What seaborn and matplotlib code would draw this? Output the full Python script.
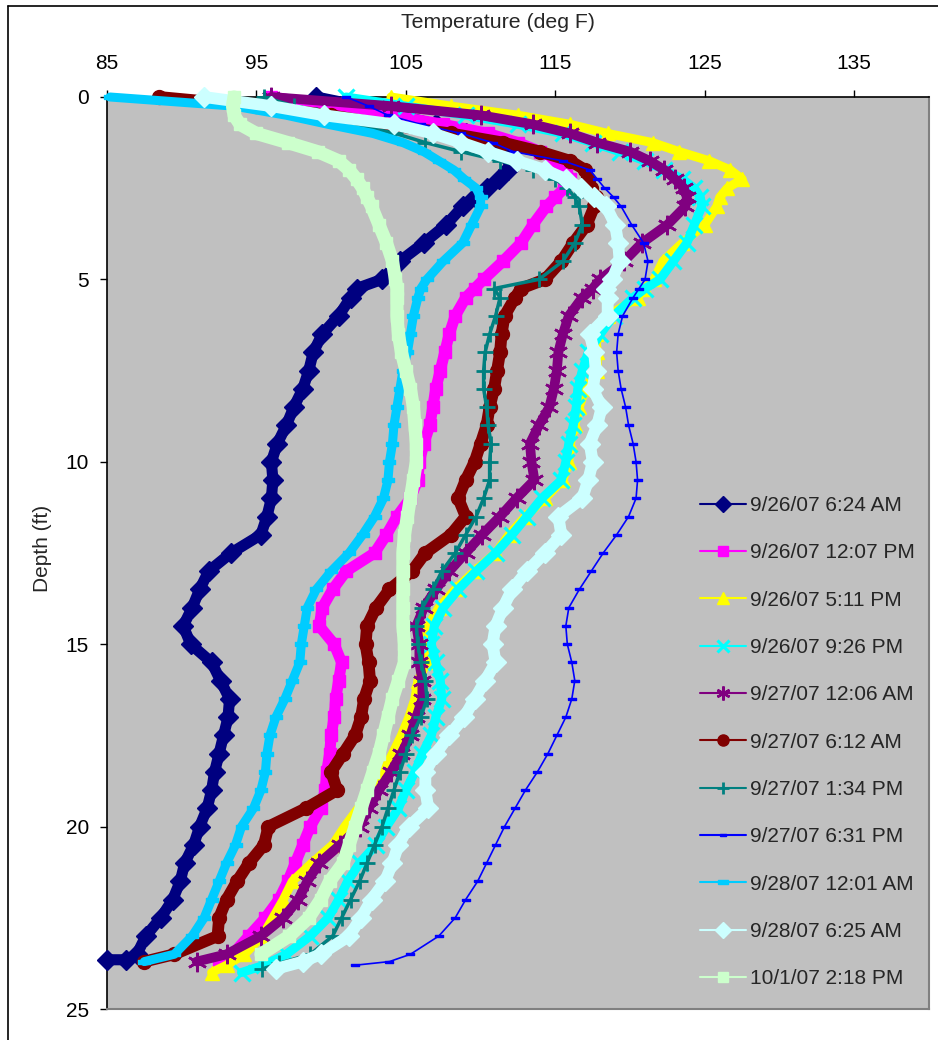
import matplotlib
matplotlib.use("Agg")
import matplotlib.pyplot as plt
from matplotlib.lines import Line2D
import seaborn as sns

# Depth of each reading (ft); shared by all probe profiles
DEPTH = [0, 0.25, 0.5, 0.75, 1.0, 1.25, 1.5, 1.75, 2.0, 2.25, 2.5, 2.75,
         3.0, 3.5, 4.0, 4.5, 5.0, 5.25, 5.5,
         6.0, 6.5, 7.0, 7.5, 8.0, 8.5, 9.0, 9.5, 10.0, 10.5,
         11.0, 11.5, 12.0, 12.5, 13.0, 13.5, 14.0, 14.5, 15.0, 15.5,
         16.0, 16.5, 17.0, 17.5, 18.0, 18.5, 19.0, 19.5, 20.0, 20.5,
         21.0, 21.5, 22.0, 22.5, 23.0, 23.5]

LABELS = ["9/26/07 6:24 AM", "9/26/07 12:07 PM", "9/26/07 5:11 PM", "9/26/07 9:26 PM",
          "9/27/07 12:06 AM", "9/27/07 6:12 AM", "9/27/07 1:34 PM", "9/27/07 6:31 PM",
          "9/28/07 12:01 AM", "9/28/07 6:25 AM", "10/1/07 2:18 PM"]

# Temperature (deg F) at each DEPTH, one list per profile
T_0926_0624 = [99.0, 102.0, 104.5, 107.0, 109.0, 110.3, 111.3, 112.0, 111.8, 111.2, 110.4, 109.6,
               108.8, 107.7, 106.2, 104.6, 103.4, 101.7, 101.3,
               100.5, 99.4, 98.8, 98.5, 98.1, 97.5, 97.0, 96.4, 96.0, 96.1,
               96.0, 95.7, 95.3, 93.3, 91.8, 91.2, 90.7, 90.1, 90.6, 92.0,
               92.6, 93.2, 93.1, 92.8, 92.5, 92.2, 92.0, 91.7, 91.2, 90.8,
               90.2, 89.9, 89.4, 88.6, 87.6, 87.0]
T_0926_1207 = [96.0, 100.0, 104.0, 107.5, 110.5, 112.5, 114.0, 115.0, 115.7, 116.0, 115.6, 115.0,
               114.4, 113.5, 112.7, 111.5, 110.2, 109.6, 109.0,
               108.3, 107.9, 107.6, 107.3, 107.0, 106.8, 106.6, 106.2, 105.9, 105.8,
               105.3, 104.4, 103.7, 102.9, 101.0, 100.1, 99.4, 99.2, 100.2, 100.7,
               100.5, 100.3, 100.2, 100.0, 99.9, 99.7, 99.6, 99.3, 98.6, 98.1,
               97.6, 97.1, 96.5, 95.6, 94.5, 93.4]
T_0926_1711 = [104.0, 108.0, 112.5, 116.0, 118.5, 121.5, 123.3, 125.3, 126.7, 127.5, 126.5, 126.0,
               125.8, 125.0, 123.5, 122.2, 121.6, 121.0, 120.5,
               118.5, 117.7, 117.8, 117.8, 117.0, 116.6, 116.3, 116.0, 115.9, 115.5,
               114.3, 113.0, 111.9, 111.0, 109.6, 108.3, 107.2, 106.5, 106.2, 106.4,
               105.8, 105.6, 105.2, 104.7, 104.1, 103.5, 102.8, 101.8, 100.9, 100.1,
               98.7, 97.4, 96.8, 96.1, 95.4, 94.2]
T_0926_2126 = [101.0, 105.0, 109.0, 112.5, 115.5, 117.5, 119.3, 121.0, 122.3, 123.5, 124.3, 124.7,
               124.8, 124.3, 123.8, 122.9, 122.0, 121.0, 120.2,
               118.9, 118.0, 117.2, 116.8, 116.5, 116.4, 116.2, 115.9, 115.7, 115.4,
               114.1, 113.1, 112.1, 111.0, 109.7, 108.5, 107.5, 106.9, 106.7, 107.0,
               107.3, 107.4, 107.0, 106.7, 106.1, 105.6, 105.0, 104.5, 103.7, 103.0,
               101.9, 101.1, 100.5, 99.8, 98.6, 97.0]
T_0927_0006 = [96.0, 104.0, 110.0, 113.5, 116.0, 117.8, 120.0, 121.3, 122.3, 123.0, 123.6, 123.8,
               123.7, 122.5, 120.8, 119.6, 118.0, 117.5, 116.8,
               115.9, 115.5, 115.2, 115.1, 114.9, 114.6, 113.9, 113.3, 113.4, 113.6,
               112.4, 111.3, 110.1, 109.0, 107.9, 107.0, 106.2, 105.7, 105.9, 105.9,
               106.1, 106.1, 105.7, 105.3, 104.7, 104.0, 103.2, 102.5, 101.9, 100.6,
               99.2, 98.4, 97.8, 96.8, 95.3, 93.0]
T_0927_0612 = [88.5, 95.0, 100.0, 103.5, 108.0, 111.5, 114.0, 116.0, 117.0, 117.2, 117.4, 117.7,
               117.6, 117.1, 116.2, 115.4, 114.3, 112.7, 112.3,
               111.6, 111.4, 111.3, 111.1, 110.9, 110.6, 110.4, 110.0, 109.6, 109.0,
               108.5, 109.0, 108.0, 106.3, 105.4, 103.9, 103.0, 102.4, 102.3, 102.5,
               102.6, 102.2, 102.0, 101.6, 100.8, 100.0, 100.4, 98.3, 95.8, 95.5,
               94.5, 93.7, 93.0, 92.5, 92.4, 89.5]
T_0927_1334 = [95.5, 97.5, 99.0, 101.5, 104.3, 106.3, 108.7, 111.3, 113.5, 115.0, 115.8, 116.3,
               116.6, 116.8, 116.3, 115.5, 113.9, 110.9, 111.3,
               111.0, 110.6, 110.3, 110.2, 110.2, 110.4, 110.5, 110.7, 110.6, 110.6,
               110.2, 109.7, 109.0, 108.3, 107.4, 106.8, 106.1, 105.7, 105.8, 106.0,
               106.3, 106.4, 106.0, 105.4, 105.0, 104.6, 104.2, 103.8, 103.4, 102.9,
               102.4, 101.9, 101.3, 100.7, 100.1, 98.6]
T_0927_1831 = [101.0, 102.5, 103.8, 106.0, 108.7, 110.8, 112.2, 115.5, 117.3, 117.8, 118.3, 118.9,
               119.4, 120.1, 120.9, 121.2, 121.0, 120.6, 120.2,
               119.5, 119.2, 119.1, 119.2, 119.4, 119.7, 119.9, 120.2, 120.4, 120.5,
               120.4, 119.9, 119.1, 118.2, 117.4, 116.6, 115.9, 115.7, 115.8, 116.1,
               116.3, 116.1, 115.7, 115.1, 114.5, 113.8, 113.0, 112.3, 111.6, 111.0,
               110.4, 109.8, 109.0, 108.3, 107.2, 105.3]
T_0928_0001 = [85.2, 93.5, 97.0, 99.8, 102.8, 104.8, 106.2, 107.2, 108.2, 108.9, 109.7, 110.0,
               110.0, 109.4, 108.8, 107.5, 106.4, 106.0, 105.8,
               105.5, 105.3, 105.1, 104.8, 104.6, 104.4, 104.2, 104.1, 103.9, 103.8,
               103.5, 102.9, 102.1, 101.2, 100.0, 99.0, 98.4, 98.2, 98.0, 97.9,
               97.4, 96.9, 96.3, 95.9, 95.7, 95.6, 95.3, 94.8, 94.0, 93.6,
               93.0, 92.5, 92.0, 91.5, 90.7, 89.5]
T_0928_0625 = [91.5, 96.0, 99.5, 104.2, 106.8, 108.7, 110.5, 112.4, 114.3, 115.7, 116.7, 117.6,
               118.4, 119.0, 119.2, 119.3, 118.8, 118.4, 118.5,
               118.5, 117.3, 117.6, 117.7, 117.5, 118.1, 117.8, 117.3, 117.5, 117.2,
               116.8, 115.2, 115.4, 114.3, 113.1, 112.1, 111.5, 111.0, 110.8, 111.0,
               110.3, 109.6, 108.9, 107.9, 107.0, 106.3, 106.3, 106.5, 105.2, 104.5,
               104.1, 103.6, 102.7, 102.0, 101.2, 99.3]
T_1001_1418 = [93.5, 93.4, 93.5, 93.9, 95.0, 97.1, 99.1, 100.5, 101.2, 101.7, 102.1, 102.4,
               102.7, 103.2, 103.7, 104.1, 104.3, 104.4, 104.4,
               104.4, 104.5, 104.7, 105.0, 105.3, 105.5, 105.6, 105.7, 105.7, 105.5,
               105.3, 105.1, 104.9, 104.8, 104.8, 104.8, 104.8, 104.8, 104.9, 104.9,
               104.5, 104.1, 103.8, 103.5, 103.2, 102.8, 102.4, 102.0, 101.6, 101.2,
               100.8, 99.9, 99.3, 98.5, 97.2, 95.3]

# Last readings near the bottom of each hole: (depths, temperatures)
TAIL_0926_0624 = ([23.65, 23.65], [86.3, 85.0])
TAIL_0926_1207 = ([23.7], [92.5])
TAIL_0926_1711 = ([23.8, 24.0], [93.0, 92.0])
TAIL_0926_2126 = ([23.8, 24.0], [95.5, 94.0])
TAIL_0927_0006 = ([23.7], [91.0])
TAIL_0927_0612 = ([23.7], [87.5])
TAIL_0927_1334 = ([23.75, 23.9], [96.5, 95.4])
TAIL_0927_1831 = ([23.7, 23.8], [103.9, 101.6])
TAIL_0928_0001 = ([23.7], [87.5])
TAIL_0928_0625 = ([23.7, 23.9], [98.1, 96.3])
TAIL_1001_1418 = ([], [])

PROFILES = [T_0926_0624, T_0926_1207, T_0926_1711, T_0926_2126, T_0927_0006, T_0927_0612,
            T_0927_1334, T_0927_1831, T_0928_0001, T_0928_0625, T_1001_1418]
TAILS = [TAIL_0926_0624, TAIL_0926_1207, TAIL_0926_1711, TAIL_0926_2126, TAIL_0927_0006,
         TAIL_0927_0612, TAIL_0927_1334, TAIL_0927_1831, TAIL_0928_0001, TAIL_0928_0625,
         TAIL_1001_1418]

X_TICKS = [85, 95, 105, 115, 125, 135]
Y_TICKS = [0, 5, 10, 15, 20, 25]

# Excel-like series styling
COLORS = ["#000080", "#FF00FF", "#FFFF00", "#00FFFF", "#800080", "#800000",
          "#008080", "#0000FF", "#00CCFF", "#CCFFFF", "#CCFFCC"]
DASH = [(-1, -0.3), (1, -0.3), (1, 0.3), (-1, 0.3), (-1, -0.3)]
LONG_DASH = [(-1, -0.35), (1, -0.35), (1, 0.35), (-1, 0.35), (-1, -0.35)]
MARKERS = ["D", "s", "^", "x", (6, 2, 0), "o", "+", DASH, LONG_DASH, "D", "s"]
MSIZE = [10, 9, 10, 11, 14, 10, 11, 6, 8, 10, 9]
MEW = [1, 1, 1, 2.2, 1.8, 1, 2, 1, 1, 1, 1]
LW = [8, 8, 6.5, 6.5, 7, 8.5, 2.5, 1.2, 6.5, 8.5, 9.5]
LEG_MS = [8, 7.5, 9, 8, 10, 8, 9, 5, 7, 8, 7.5]

sns.set_style("white")
plt.rcParams["font.family"] = ["Liberation Sans", "DejaVu Sans"]

W, H = 938, 1040
fig = plt.figure(figsize=(W / 100, H / 100), dpi=100, facecolor="white")
ax = fig.add_axes([107 / W, (H - 1009) / H, (929 - 107) / W, (1009 - 97) / H])
ax.set_facecolor("#C0C0C0")

for temps, (tail_d, tail_t), color, mk, ms, mew, lw in zip(
        PROFILES, TAILS, COLORS, MARKERS, MSIZE, MEW, LW):
    depth = DEPTH + tail_d
    temp = temps + tail_t
    sns.lineplot(x=temp, y=depth, ax=ax, sort=False, estimator=None, errorbar=None,
                 color=color, linewidth=lw, marker=mk, markersize=ms,
                 markerfacecolor=color, markeredgecolor=color, markeredgewidth=mew,
                 legend=False, clip_on=False)

ax.set_xlim(85, 140)
ax.set_ylim(25, 0)
ax.set_xticks(X_TICKS)
ax.set_yticks(Y_TICKS)
ax.xaxis.tick_top()
ax.tick_params(axis="x", which="both", top=True, bottom=False, labeltop=True,
               labelbottom=False, direction="out", length=5, width=1, pad=12,
               labelsize=15, colors="black")
ax.tick_params(axis="y", left=True, right=False, direction="out", length=5, width=1,
               pad=8, labelsize=15, colors="black")
ax.grid(False)

for side in ("top", "left"):
    ax.spines[side].set_color("black")
    ax.spines[side].set_linewidth(1.2)
for side in ("right", "bottom"):
    ax.spines[side].set_color("#808080")
    ax.spines[side].set_linewidth(1.5)
for sp in ax.spines.values():
    sp.set_visible(True)
    sp.set_zorder(1)

ax.set_xlabel("Temperature (deg F)", fontsize=15.3)
ax.xaxis.set_label_position("top")
ax.xaxis.set_label_coords((498 - 107) / (929 - 107), (1009 - 23) / (1009 - 97))
ax.xaxis.label.set_va("center")
ax.set_ylabel("Depth (ft)", fontsize=15)
ax.yaxis.set_label_coords((42 - 107) / (929 - 107), (1009 - 548) / (1009 - 97))
ax.yaxis.label.set_va("center")

handles = [Line2D([], [], color=c, lw=1.5, marker=m, markersize=s, markerfacecolor=c,
                  markeredgecolor=c, markeredgewidth=e)
           for c, m, s, e in zip(COLORS, MARKERS, LEG_MS, MEW)]
fig.legend(handles, LABELS, loc="upper left", bbox_to_anchor=(700 / W, 1 - 496 / H),
           bbox_transform=fig.transFigure, frameon=False, fontsize=15, handlelength=2.2,
           handletextpad=0.2, labelspacing=1.36, borderpad=0, borderaxespad=0, numpoints=1)

# Outer chart border (left and top edges)
fig.add_artist(Line2D([8 / W, 8 / W], [0, 1 - 6 / H], transform=fig.transFigure,
                      color="black", lw=1.2))
fig.add_artist(Line2D([8 / W, 1], [1 - 6 / H, 1 - 6 / H], transform=fig.transFigure,
                      color="black", lw=1.2))

fig.savefig("out.png", dpi=100, facecolor="white")
